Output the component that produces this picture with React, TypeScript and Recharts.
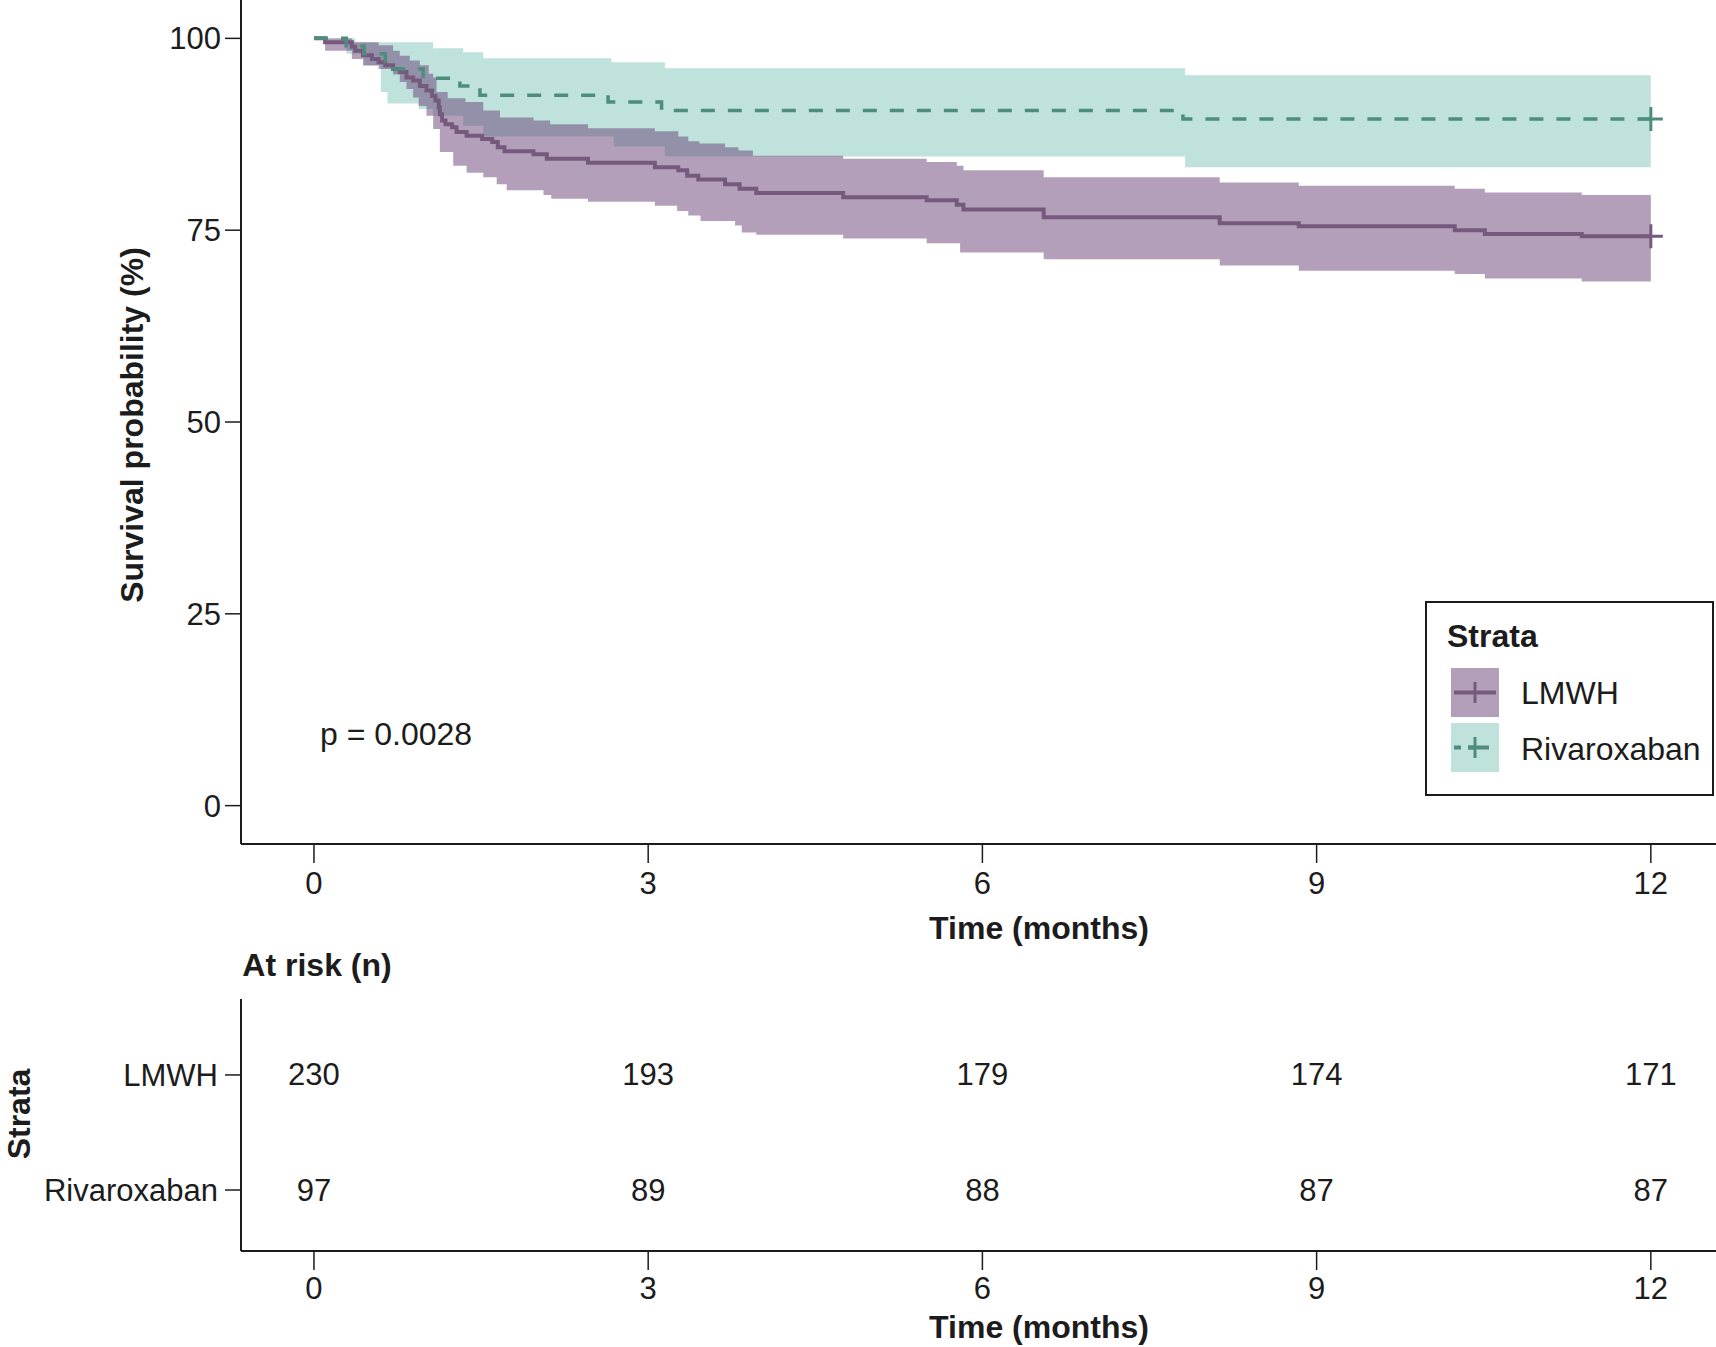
import { Area, ComposedChart, Line, Scatter, XAxis, YAxis } from 'recharts';

// Kaplan-Meier estimates (%), step times in months
const lmwhTime = [0, 0.10, 0.34, 0.37, 0.44, 0.52, 0.58, 0.64, 0.71, 0.77, 0.83, 0.89, 0.95, 1.01, 1.06, 1.09, 1.12, 1.13, 1.15, 1.18, 1.24, 1.28, 1.37, 1.51, 1.60, 1.65, 1.71, 1.97, 2.09, 2.46, 3.06, 3.27, 3.35, 3.45, 3.69, 3.82, 3.97, 4.75, 5.50, 5.77, 5.83, 6.55, 8.13, 8.84, 10.24, 10.51, 11.38, 12.0];
const lmwhSurv = [100, 99.5, 98.9, 98.4, 97.8, 97.3, 96.9, 96.5, 96.0, 95.6, 94.9, 94.5, 93.8, 93.2, 92.5, 91.9, 91.0, 90.1, 89.3, 88.8, 88.4, 87.8, 87.3, 86.9, 86.5, 85.8, 85.3, 84.9, 84.3, 83.8, 83.2, 82.8, 82.1, 81.6, 81.0, 80.4, 79.85, 79.3, 78.9, 78.3, 77.7, 76.7, 75.9, 75.5, 75.0, 74.5, 74.2, 74.2];

const lmwhUpperTime = [0, 0.34, 0.58, 0.71, 0.77, 0.86, 0.95, 1.03, 1.07, 1.10, 1.20, 1.36, 1.52, 1.67, 1.97, 2.12, 2.46, 3.06, 3.27, 3.36, 3.46, 3.69, 3.81, 3.94, 4.75, 5.50, 5.77, 5.83, 6.55, 8.13, 8.84, 10.24, 10.51, 11.38, 12.0];
const lmwhUpper = [100, 99.5, 99.1, 98.4, 97.75, 97.1, 96.5, 95.4, 94.9, 93.0, 92.2, 91.7, 90.6, 89.7, 89.3, 88.8, 88.3, 87.9, 87.2, 86.6, 86.3, 85.8, 85.4, 84.7, 84.3, 83.9, 83.4, 82.8, 81.9, 81.2, 80.8, 80.4, 79.9, 79.6, 79.6];

const lmwhLowerTime = [0, 0.10, 0.34, 0.44, 0.58, 0.71, 0.77, 0.83, 0.89, 0.94, 1.01, 1.07, 1.13, 1.25, 1.37, 1.52, 1.64, 1.73, 2.06, 2.13, 2.46, 3.06, 3.26, 3.36, 3.47, 3.78, 3.84, 3.97, 4.75, 5.50, 5.80, 6.55, 8.13, 8.84, 10.24, 10.51, 11.38, 12.0];
const lmwhLower = [100, 98.4, 97.3, 96.45, 96.0, 95.3, 94.3, 93.4, 92.3, 91.2, 89.9, 88.2, 85.2, 83.4, 82.5, 81.9, 81.0, 80.2, 79.6, 79.1, 78.7, 78.2, 77.5, 76.9, 76.2, 75.6, 74.7, 74.4, 73.9, 73.3, 72.1, 71.2, 70.4, 69.7, 69.3, 68.7, 68.3, 68.3];

const rivaTime = [0, 0.29, 0.45, 0.64, 0.68, 0.98, 1.31, 1.49, 2.64, 3.12, 7.80, 12.0];
const rivaSurv = [100, 99.0, 98.0, 97.0, 96.0, 94.8, 93.8, 92.6, 91.7, 90.6, 89.5, 89.5];

const rivaUpperTime = [0, 0.37, 1.07, 1.34, 1.52, 2.67, 3.15, 7.82, 12.0];
const rivaUpper = [100, 99.5, 98.7, 98.2, 97.4, 96.9, 96.1, 95.2, 95.2];

const rivaLowerTime = [0, 0.29, 0.45, 0.60, 0.66, 0.94, 1.07, 1.34, 1.52, 2.69, 3.15, 7.82, 12.0];
const rivaLower = [100, 98.0, 96.5, 93.0, 91.5, 90.8, 89.9, 88.6, 87.2, 85.9, 84.6, 83.2, 83.2];

// censored at end of follow-up
const censorTimes = [12.0];

// number at risk
const riskTimes = [0, 3, 6, 9, 12];
const lmwhAtRisk = [230, 193, 179, 174, 171];
const rivaAtRisk = [97, 89, 88, 87, 87];

const timeTicks = [0, 3, 6, 9, 12];
const survTicks = [0, 25, 50, 75, 100];

const FONT = '"Liberation Sans", Arial, Helvetica, sans-serif';
const INK = '#1c1c1c';
const LMWH_LINE = '#765a7e';
const LMWH_BAND = '#673f75';
const LMWH_KEY = '#b39fba';
const RIVA_LINE = '#4e8d7d';
const RIVA_BAND = '#bfe2dc';

const X_DOMAIN: [number, number] = [-0.655, 12.585];

// value of a step function at t
const stepAt = (ts: number[], vs: number[], t: number) => {
  let v = vs[0];
  for (let i = 0; i < ts.length; i++) {
    if (ts[i] <= t) v = vs[i];
    else break;
  }
  return v;
};

const bandRows = (loT: number[], lo: number[], hiT: number[], hi: number[]) => {
  const ts = Array.from(new Set([...loT, ...hiT])).sort((a, b) => a - b);
  return ts.map((t) => ({ t, band: [stepAt(loT, lo, t), stepAt(hiT, hi, t)] }));
};

const curveRows = (ts: number[], vs: number[]) => ts.map((t, i) => ({ t, s: vs[i] }));

const lmwhCurve = curveRows(lmwhTime, lmwhSurv);
const rivaCurve = curveRows(rivaTime, rivaSurv);
const lmwhBand = bandRows(lmwhLowerTime, lmwhLower, lmwhUpperTime, lmwhUpper);
const rivaBand = bandRows(rivaLowerTime, rivaLower, rivaUpperTime, rivaUpper);

const lmwhRisk = riskTimes.map((t, i) => ({ t, row: 2, n: lmwhAtRisk[i] }));
const rivaRisk = riskTimes.map((t, i) => ({ t, row: 1, n: rivaAtRisk[i] }));

const censorMark = (color: string) => (p: any) => {
  const { cx, cy, payload, index } = p;
  if (!censorTimes.includes(payload.t)) return <g key={`c${index}`} />;
  return (
    <path
      key={`c${index}`}
      d={`M${cx - 12},${cy}h24M${cx},${cy - 12}v24`}
      stroke={color}
      strokeWidth={3}
      strokeDasharray="none"
      fill="none"
    />
  );
};

const riskText = (p: any) => (
  <text
    x={p.cx}
    y={p.cy}
    textAnchor="middle"
    dominantBaseline="central"
    fontSize={31}
    fontFamily={FONT}
    fill={INK}
  >
    {p.payload.n}
  </text>
);

const tickStyle = { fontSize: 31, fill: INK, fontFamily: FONT };

const label = (text: string, cx: number, cy: number, bold = true, rotate = false) => (
  <div
    style={{
      position: 'absolute',
      left: cx,
      top: cy,
      transform: `translate(-50%, -50%)${rotate ? ' rotate(-90deg)' : ''}`,
      whiteSpace: 'nowrap',
      fontFamily: FONT,
      fontWeight: bold ? 700 : 400,
      fontSize: 32,
      lineHeight: '32px',
      color: INK,
    }}
  >
    {text}
  </div>
);

function LegendKey({ fill, stroke, dashed }: { fill: string; stroke: string; dashed?: boolean }) {
  return (
    <svg width={48} height={49} style={{ position: 'absolute', left: 0, top: 0 }}>
      <rect x={0} y={0} width={48} height={49} fill={fill} />
      <line
        x1={3}
        x2={45}
        y1={24.5}
        y2={24.5}
        stroke={stroke}
        strokeWidth={4}
        strokeDasharray={dashed ? '7 7' : undefined}
      />
      <line x1={24} x2={24} y1={14} y2={35} stroke={stroke} strokeWidth={3} />
      {dashed && <line x1={17} x2={31} y1={24.5} y2={24.5} stroke={stroke} strokeWidth={4} />}
    </svg>
  );
}

export default function App() {
  return (
    <div
      style={{
        position: 'absolute',
        left: 0,
        top: 0,
        width: 1716,
        height: 1347,
        background: '#fff',
        overflow: 'hidden',
      }}
    >
      <ComposedChart width={1716} height={940} margin={{ top: 0, right: 0, bottom: 0, left: 0 }}>
        <XAxis
          type="number"
          dataKey="t"
          domain={X_DOMAIN}
          ticks={timeTicks}
          allowDataOverflow
          height={96}
          axisLine={{ stroke: INK, strokeWidth: 2 }}
          tickLine={{ stroke: INK, strokeWidth: 1.5 }}
          tickSize={19}
          tickMargin={9}
          tick={tickStyle}
        />
        <YAxis
          type="number"
          domain={[-5, 105]}
          ticks={survTicks}
          allowDataOverflow
          width={241}
          axisLine={{ stroke: INK, strokeWidth: 2 }}
          tickLine={{ stroke: INK, strokeWidth: 1.5 }}
          tickSize={16}
          tickMargin={4}
          tick={tickStyle}
        />
        <Area
          data={rivaBand}
          dataKey="band"
          type="stepAfter"
          stroke="none"
          fill={RIVA_BAND}
          fillOpacity={1}
          isAnimationActive={false}
        />
        <Area
          data={lmwhBand}
          dataKey="band"
          type="stepAfter"
          stroke="none"
          fill={LMWH_BAND}
          fillOpacity={0.5}
          isAnimationActive={false}
        />
        <Line
          data={lmwhCurve}
          dataKey="s"
          type="stepAfter"
          stroke={LMWH_LINE}
          strokeWidth={4}
          dot={censorMark(LMWH_LINE)}
          activeDot={false}
          isAnimationActive={false}
        />
        <Line
          data={rivaCurve}
          dataKey="s"
          type="stepAfter"
          stroke={RIVA_LINE}
          strokeWidth={3.5}
          strokeDasharray="14 13"
          dot={censorMark(RIVA_LINE)}
          activeDot={false}
          isAnimationActive={false}
        />
      </ComposedChart>

      <div style={{ position: 'absolute', left: 0, top: 940 }}>
        <ComposedChart width={1716} height={407} margin={{ top: 59, right: 0, bottom: 0, left: 0 }}>
          <XAxis
            type="number"
            dataKey="t"
            domain={X_DOMAIN}
            ticks={timeTicks}
            allowDataOverflow
            height={96}
            axisLine={{ stroke: INK, strokeWidth: 2 }}
            tickLine={{ stroke: INK, strokeWidth: 1.5 }}
            tickSize={19}
            tickMargin={7}
            tick={tickStyle}
          />
          <YAxis
            type="number"
            domain={[0.47, 2.66]}
            ticks={[1, 2]}
            allowDataOverflow
            width={241}
            tickFormatter={(v: number) => (v === 2 ? 'LMWH' : 'Rivaroxaban')}
            axisLine={{ stroke: INK, strokeWidth: 2 }}
            tickLine={{ stroke: INK, strokeWidth: 1.5 }}
            tickSize={16}
            tickMargin={7}
            tick={tickStyle}
          />
          <Scatter data={lmwhRisk} dataKey="row" shape={riskText} isAnimationActive={false} />
          <Scatter data={rivaRisk} dataKey="row" shape={riskText} isAnimationActive={false} />
        </ComposedChart>
      </div>

      {label('Survival probability (%)', 132, 425, true, true)}
      {label('Time (months)', 1039, 928)}
      {label('At risk (n)', 317, 965)}
      {label('Time (months)', 1039, 1327)}
      {label('Strata', 19, 1114, true, true)}

      <div
        style={{
          position: 'absolute',
          left: 320,
          top: 718,
          fontFamily: FONT,
          fontSize: 32,
          lineHeight: '32px',
          color: INK,
          whiteSpace: 'nowrap',
        }}
      >
        p = 0.0028
      </div>

      <div
        style={{
          position: 'absolute',
          left: 1425,
          top: 601,
          width: 289,
          height: 195,
          border: `2px solid ${INK}`,
          boxSizing: 'border-box',
          background: '#fff',
          fontFamily: FONT,
          color: INK,
        }}
      >
        <div style={{ position: 'absolute', left: 20, top: 17, fontSize: 32, lineHeight: '32px', fontWeight: 700 }}>
          Strata
        </div>
        <div style={{ position: 'absolute', left: 24, top: 65, width: 48, height: 49 }}>
          <LegendKey fill={LMWH_KEY} stroke={LMWH_LINE} />
        </div>
        <div style={{ position: 'absolute', left: 94, top: 74, fontSize: 32, lineHeight: '32px' }}>LMWH</div>
        <div style={{ position: 'absolute', left: 24, top: 120, width: 48, height: 49 }}>
          <LegendKey fill={RIVA_BAND} stroke={RIVA_LINE} dashed />
        </div>
        <div style={{ position: 'absolute', left: 94, top: 130, fontSize: 32, lineHeight: '32px' }}>Rivaroxaban</div>
      </div>
    </div>
  );
}
